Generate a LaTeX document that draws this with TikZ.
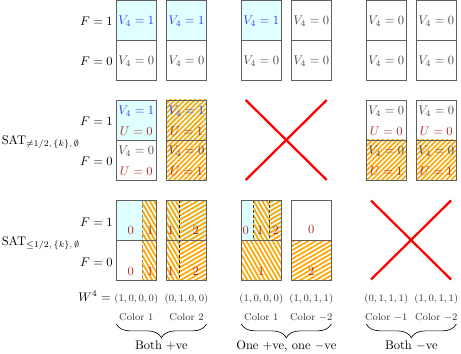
\documentclass[tikz,border=0pt]{standalone}
\usetikzlibrary{patterns.meta,decorations.pathreplacing}
\definecolor{cyanbg}{RGB}{224,255,255}
\definecolor{hatchc}{RGB}{255,165,0}
\definecolor{vblue}{RGB}{50,60,255}
\definecolor{ured}{RGB}{170,40,40}
\definecolor{vgray}{RGB}{70,70,70}
\definecolor{boxc}{RGB}{95,95,95}
\newcommand\pairbox[2]{\draw[cellb] (#1,#2) rectangle ++(40,80); \draw[cellb] (#1,#2+40) -- ++(40,0);}
\begin{document}
\begin{tikzpicture}[x=0.8pt,y=-0.8pt,
  cellb/.style={draw=boxc,line width=0.6pt},
  txt/.style={inner sep=0pt,anchor=base},
  vb/.style={txt,text=vblue},
  vg/.style={txt,text=vgray},
  ur/.style={txt,text=ured},
  sm/.style={txt,font=\footnotesize,text=black!80},
  hA/.style={pattern={Lines[angle=45,distance=2.8pt,line width=1.3pt]},pattern color=hatchc},
  hB/.style={pattern={Lines[angle=-60,distance=3pt,line width=1.4pt]},pattern color=hatchc},
  hC/.style={pattern={Lines[angle=30,distance=3pt,line width=1.4pt]},pattern color=hatchc},
  divide/.style={dash pattern=on 2.4pt off 1.6pt,line width=0.6pt},
  cross/.style={draw=red,line width=1.8pt},
  bracebelow/.style={decorate,decoration={brace,mirror,amplitude=11pt},line width=0.5pt}]
\useasboundingbox (0,0) rectangle (461,354);

% ---------- fills and hatching ----------
% row 1
\fill[cyanbg] (116.3,0.4) rectangle ++(40,40);
\fill[cyanbg] (166.5,0.4) rectangle ++(40,40);
\fill[cyanbg] (241.3,0.4) rectangle ++(40,40);
% row 2
\fill[cyanbg] (116.3,100) rectangle ++(40,40);
\fill[cyanbg] (166.5,100) rectangle ++(40,40);
\fill[hA] (166.5,100) rectangle ++(40,80);
\fill[hA] (366.3,140) rectangle ++(40,40);
\fill[hA] (416.3,140) rectangle ++(40,40);
% row 3
\fill[cyanbg] (116.3,200) rectangle ++(40,40);
\fill[hB] (142.3,200) rectangle (156.3,280);
\fill[cyanbg] (166.5,200) rectangle ++(40,40);
\fill[hB] (166.5,200) rectangle (179.3,280);
\fill[hC] (179.3,200) rectangle (206.5,280);
\fill[cyanbg] (241.3,200) rectangle ++(40,40);
\fill[hB] (253.7,200) rectangle (269,240);
\fill[hC] (269,200) rectangle (281.3,240);
\fill[hB] (241.3,240) rectangle (281.3,280);
\fill[hC] (291.3,240) rectangle (331.3,280);

% dashed dividers
\coordinate (d1t) at (142.3,200); \coordinate (d1b) at (142.3,280);
\coordinate (d2t) at (179.3,200); \coordinate (d2b) at (179.3,280);
\coordinate (d3t) at (253.7,200); \coordinate (d3b) at (253.7,240);
\coordinate (d4t) at (269,200);   \coordinate (d4b) at (269,240);
\draw[divide,draw=black!45] (d1t) -- (d1b);
\draw[divide,draw=black!90] (d2t) -- (d2b);
\draw[divide,draw=black!75] (d3t) -- (d3b);
\draw[divide,draw=black!75] (d4t) -- (d4b);

% ---------- boxes ----------
\pairbox{116.3}{0.4}\pairbox{166.5}{0.4}\pairbox{241.3}{0.4}\pairbox{291.3}{0.4}\pairbox{366.3}{0.4}\pairbox{416.3}{0.4}
\pairbox{116.3}{100}\pairbox{166.5}{100}\pairbox{366.3}{100}\pairbox{416.3}{100}
\pairbox{116.3}{200}\pairbox{166.5}{200}\pairbox{241.3}{200}\pairbox{291.3}{200}

% ---------- red crosses ----------
\coordinate (xa1) at (245.7,100); \coordinate (xa2) at (326.7,180);
\coordinate (xa3) at (326.7,100); \coordinate (xa4) at (245.7,180);
\draw[cross] (xa1) -- (xa2); \draw[cross] (xa3) -- (xa4);
\coordinate (xb1) at (371,200.5); \coordinate (xb2) at (451,279.5);
\coordinate (xb3) at (451,200.5); \coordinate (xb4) at (371,279.5);
\draw[cross] (xb1) -- (xb2); \draw[cross] (xb3) -- (xb4);

% ---------- left labels ----------
\node[txt,anchor=base east] (f11) at (113,25.7) {$F=1$};
\node[txt,anchor=base east] (f10) at (113,65.7) {$F=0$};
\node[txt,anchor=base east] (f21) at (113,126) {$F=1$};
\node[txt,anchor=base east] (f20) at (113,166) {$F=0$};
\node[txt,anchor=base east] (f31) at (113,226) {$F=1$};
\node[txt,anchor=base east] (f30) at (113,266) {$F=0$};
\node[txt,anchor=base west] (sat2) at (1.5,144) {$\mathrm{SAT}_{\neq 1/2,\,\{k\},\,\emptyset}$};
\node[txt,anchor=base west] (sat3) at (1.5,245.5) {$\mathrm{SAT}_{\leq 1/2,\,\{k\},\,\emptyset}$};

% ---------- row 1 texts ----------
\node[vb] (a1t) at (136.3,25) {$V_4=1$};
\node[vg] (a1b) at (136.3,65) {$V_4=0$};
\node[vb] (a2t) at (186.5,25) {$V_4=1$};
\node[vg] (a2b) at (186.5,65) {$V_4=0$};
\node[vb] (a3t) at (261.3,25) {$V_4=1$};
\node[vg] (a3b) at (261.3,65) {$V_4=0$};
\node[vg] (a4t) at (311.3,25) {$V_4=0$};
\node[vg] (a4b) at (311.3,65) {$V_4=0$};
\node[vg] (a5t) at (386.3,25) {$V_4=0$};
\node[vg] (a5b) at (386.3,65) {$V_4=0$};
\node[vg] (a6t) at (436.3,25) {$V_4=0$};
\node[vg] (a6b) at (436.3,65) {$V_4=0$};

% ---------- row 2 texts ----------
\node[vb] (b1tv) at (136.3,115) {$V_4=1$};
\node[ur] (b1tu) at (136.3,135.5) {$U=0$};
\node[vg] (b1bv) at (136.3,155) {$V_4=0$};
\node[ur] (b1bu) at (136.3,175.5) {$U=0$};
\node[vb] (b2tv) at (186.5,115) {$V_4=1$};
\node[ur] (b2tu) at (186.5,135.5) {$U=1$};
\node[vg] (b2bv) at (186.5,155) {$V_4=0$};
\node[ur] (b2bu) at (186.5,175.5) {$U=1$};
\node[vg] (b5tv) at (386.3,115) {$V_4=0$};
\node[ur] (b5tu) at (386.3,135.5) {$U=0$};
\node[vg] (b5bv) at (386.3,155) {$V_4=0$};
\node[ur] (b5bu) at (386.3,175.5) {$U=1$};
\node[vg] (b6tv) at (436.3,115) {$V_4=0$};
\node[ur] (b6tu) at (436.3,135.5) {$U=0$};
\node[vg] (b6bv) at (436.3,155) {$V_4=0$};
\node[ur] (b6bu) at (436.3,175.5) {$U=1$};

% ---------- row 3 texts ----------
\node[ur] (c1a) at (130.8,234) {$0$};
\node[ur] (c1b) at (150.3,234) {$1$};
\node[ur] (c1c) at (130.8,275.5) {$0$};
\node[ur] (c1d) at (150.3,275.5) {$1$};
\node[ur] (c2a) at (170.8,234) {$1$};
\node[ur] (c2b) at (195.8,234) {$2$};
\node[ur] (c2c) at (170.8,275) {$1$};
\node[ur] (c2d) at (195.8,275) {$2$};
\node[ur] (c3a) at (245.7,234) {$0$};
\node[ur] (c3b) at (260.2,234) {$1$};
\node[ur] (c3c) at (275.8,234) {$2$};
\node[ur] (c3d) at (261.3,275.5) {$1$};
\node[ur] (c4a) at (311.3,233.5) {$0$};
\node[ur] (c4b) at (311.3,275) {$2$};

% ---------- bottom labels ----------
\node[txt,anchor=base east] (wlab) at (111,301) {$W^4=$};
\node[sm] (w1) at (136.3,301) {$(1,0,0,0)$};
\node[sm] (w2) at (186.5,301) {$(0,1,0,0)$};
\node[sm] (w3) at (261.3,301) {$(1,0,0,0)$};
\node[sm] (w4) at (311.3,301) {$(1,0,1,1)$};
\node[sm] (w5) at (386.3,301) {$(0,1,1,1)$};
\node[sm] (w6) at (436.3,301) {$(1,0,1,1)$};
\node[sm] (k1) at (136.3,320.7) {Color 1};
\node[sm] (k2) at (186.5,320.7) {Color 2};
\node[sm] (k3) at (261.3,320.7) {Color 1};
\node[sm] (k4) at (311.3,320.7) {Color $-2$};
\node[sm] (k5) at (386.3,320.7) {Color $-1$};
\node[sm] (k6) at (436.3,320.7) {Color $-2$};

\coordinate (br1a) at (116.3,324); \coordinate (br1b) at (206.5,324);
\coordinate (br2a) at (241.3,324); \coordinate (br2b) at (331.3,324);
\coordinate (br3a) at (366.3,324); \coordinate (br3b) at (456.3,324);
\draw[bracebelow] (br1a) -- (br1b);
\draw[bracebelow] (br2a) -- (br2b);
\draw[bracebelow] (br3a) -- (br3b);
\node[txt] (g1) at (161.4,349.3) {Both $+$ve};
\node[txt] (g2) at (286.3,349.3) {One $+$ve, one $-$ve};
\node[txt] (g3) at (411.3,349.3) {Both $-$ve};
\end{tikzpicture}
\end{document}
